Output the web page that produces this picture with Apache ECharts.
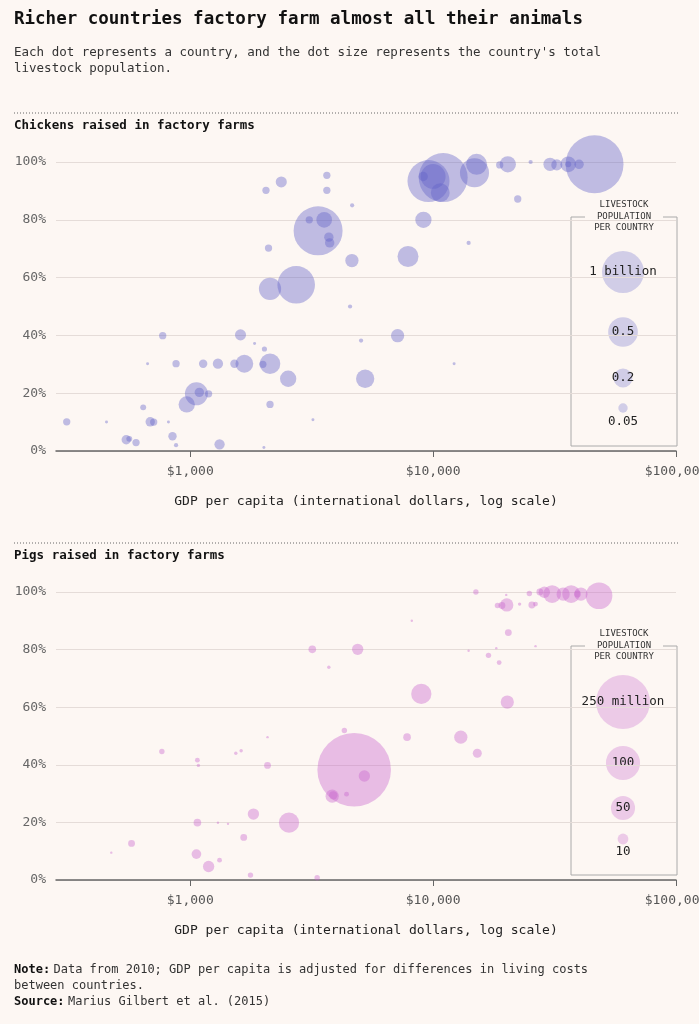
<!DOCTYPE html>
<html>
<head>
<meta charset="UTF-8">
<title>Factory farms</title>
<script src="https://cdn.jsdelivr.net/npm/echarts@6/dist/echarts.min.js"></script>
<style>
  html, body { margin: 0; padding: 0; background: #fdf7f3; }
  #main { width: 699px; height: 1024px; }
</style>
</head>
<body>
<div id="main"></div>
<script>
// chickens: [gdp per capita, % factory farmed, population (billions)]
var chickens = [
  [46200, 99.2, 1.9], [11000, 94.6, 1.36], [9570, 93.4, 1.0], [10000, 95, 0.35], [9100, 95, 0.05],
  [10700, 89.4, 0.2], [14800, 96.3, 0.48], [15100, 99.2, 0.25], [20300, 99.2, 0.15], [18800, 99, 0.03],
  [25200, 100, 0.01], [30300, 99.2, 0.1], [32300, 99, 0.07], [36000, 99.2, 0.14], [36000, 99.2, 0.02],
  [39900, 99.2, 0.05], [22300, 87.2, 0.03], [14000, 72, 0.01], [9120, 80, 0.15], [7880, 67.3, 0.25],
  [3360, 76.2, 1.36], [3560, 80, 0.14], [3090, 80, 0.03], [3720, 74, 0.05], [3750, 72, 0.05],
  [3650, 95.4, 0.03], [3650, 90.2, 0.03], [2370, 93.1, 0.07], [2050, 90.2, 0.03], [4640, 85, 0.01],
  [2100, 70.2, 0.03], [4630, 65.9, 0.1], [2730, 57.5, 0.8], [2130, 56.1, 0.28], [4550, 50, 0.01],
  [7140, 39.9, 0.1], [5050, 38.2, 0.01], [1610, 40.2, 0.07], [770, 39.9, 0.03], [1840, 37.2, 0.005],
  [2020, 35.3, 0.015], [667, 30.2, 0.005], [874, 30.2, 0.03], [1130, 30.2, 0.04], [1300, 30.2, 0.06],
  [1520, 30.2, 0.04], [1670, 30.2, 0.18], [2130, 30.2, 0.24], [1990, 30, 0.03], [2530, 25, 0.15],
  [5250, 25, 0.19], [12200, 30.2, 0.005], [1060, 19.8, 0.3], [1090, 20.3, 0.05], [1190, 19.8, 0.03],
  [967, 16.1, 0.15], [640, 15.1, 0.02], [2130, 16.1, 0.03], [310, 10.1, 0.03], [452, 10, 0.005],
  [684, 10.1, 0.05], [707, 10, 0.03], [813, 10, 0.005], [3200, 10.8, 0.005], [845, 5.1, 0.04],
  [874, 2, 0.01], [545, 3.9, 0.05], [561, 4.2, 0.02], [598, 2.9, 0.03], [1320, 2.3, 0.06],
  [2010, 1.2, 0.005]
];
// pigs: [gdp per capita, % factory farmed, population (millions)]
var pigs = [
  [48200, 98.7, 61], [30900, 99.3, 27], [28700, 99.9, 11], [27500, 100, 4], [34300, 99.3, 15],
  [37000, 99.3, 27], [39300, 99.3, 4], [40600, 99.3, 15], [24900, 99.5, 2.5], [15000, 100, 2.5],
  [20100, 95.5, 15], [19200, 95.3, 4], [18400, 95.3, 2.5], [22700, 95.8, 1], [20000, 99, 0.5],
  [25500, 95.5, 4], [26400, 95.8, 2], [8170, 90, 0.5], [20400, 85.9, 4], [3180, 80.1, 5],
  [4890, 80.1, 11], [3720, 73.9, 1], [14000, 79.6, 0.5], [18200, 80.5, 0.5], [26400, 81.2, 0.5],
  [16900, 78, 2.5], [18700, 75.5, 2], [8940, 64.6, 35], [20200, 61.8, 15], [4310, 51.9, 2.5],
  [7810, 49.6, 5], [13000, 49.6, 15], [15200, 44, 7], [2080, 49.6, 0.5], [4730, 38.3, 464],
  [5210, 36.1, 11], [3840, 29.1, 15], [3880, 29.4, 6], [4400, 29.8, 2], [764, 44.6, 2.5],
  [1070, 41.6, 2], [1080, 39.8, 1], [1540, 44, 1], [1620, 44.9, 1], [2080, 39.8, 4],
  [1820, 22.9, 11], [2550, 19.9, 35], [1070, 19.9, 5], [1300, 19.9, 0.5], [1430, 19.5, 0.5],
  [1660, 14.8, 4], [573, 12.7, 4], [473, 9.5, 0.5], [1060, 9, 8], [1190, 4.7, 11],
  [1320, 6.9, 2], [1770, 1.7, 2.5], [3330, 0.8, 2.5]
];
var chickenKey = [1, 0.5, 0.2, 0.05];
var chickenKeyLabels = ['1 billion', '0.5', '0.2', '0.05'];
var pigKey = [250, 100, 50, 10];
var pigKeyLabels = ['250 million', '100', '50', '10'];
var xTicks = [1000, 10000, 100000];
var yTicks = [0, 20, 40, 60, 80, 100];

var MONO = '"DejaVu Sans Mono", "Liberation Mono", monospace';
var chickenColor = 'rgba(98, 98, 200, 0.5)';
var pigColor = 'rgba(200, 100, 205, 0.5)';

function chickenSize(p) { return 42 * Math.sqrt(p); }
function pigSize(p) { return 54 * Math.sqrt(p / 250); }

function toPoints(rows) {
  return rows.map(function (r) { return [Math.log10(r[0]), r[1], r[2]]; });
}

var logTicks = xTicks.map(function (v) { return Math.log10(v); });

function xAxis(idx) {
  return {
    type: 'value', gridIndex: idx, min: Math.log10(280), max: 5,
    axisLine: { show: true, lineStyle: { color: '#666', width: 1.5 } },
    axisTick: { show: true, customValues: logTicks, length: 6, lineStyle: { color: '#666' } },
    splitLine: { show: false },
    axisLabel: {
      customValues: logTicks, color: '#555', fontFamily: MONO, fontSize: 13, margin: 14,
      formatter: function (v) { return '$' + Math.round(Math.pow(10, v)).toLocaleString('en-US'); }
    },
    name: 'GDP per capita (international dollars, log scale)',
    nameLocation: 'middle', nameGap: 44,
    nameTextStyle: { color: '#222', fontFamily: MONO, fontSize: 13 }
  };
}
function yAxis(idx) {
  return {
    type: 'value', gridIndex: idx, min: 0, max: 100, interval: 20,
    axisLine: { show: false }, axisTick: { show: false },
    splitLine: { lineStyle: { color: '#e5dcd8', width: 1.2 } },
    axisLabel: { color: '#666', fontFamily: MONO, fontSize: 13, margin: 10,
      formatter: function (v) { return v + '%'; } }
  };
}

function keyGraphics(top, keys, labels, sizeFn, color, centers, labelOffsets) {
  var g = [];
  var left = 571, right = 677, bottom = top + 229;
  g.push({ type: 'polyline', shape: { points: [[left + 14, top], [left, top], [left, bottom], [right, bottom], [right, top], [right - 14, top]] },
    style: { stroke: '#aaa', fill: null, lineWidth: 1 } });
  ['LIVESTOCK', 'POPULATION', 'PER COUNTRY'].forEach(function (t, i) {
    g.push({ type: 'text', x: 624, y: top - 12 + i * 11.5,
      style: { text: t, fontFamily: MONO, fontSize: 9, fill: '#333', align: 'center', verticalAlign: 'middle' } });
  });
  keys.forEach(function (k, i) {
    g.push({ type: 'circle', shape: { cx: 623, cy: top + centers[i], r: sizeFn(k) / 2 }, style: { fill: color } });
    g.push({ type: 'text', x: 623, y: top + centers[i] + labelOffsets[i],
      style: { text: labels[i], fontFamily: MONO, fontSize: 12.5, fill: '#222', align: 'center', verticalAlign: 'middle' } });
  });
  return g;
}

var graphics = [
  { type: 'text', x: 14, y: 10, style: { text: 'Richer countries factory farm almost all their animals', fontFamily: MONO, fontWeight: 'bold', fontSize: 17.5, fill: '#111' } },
  { type: 'text', x: 14, y: 45, style: { text: "Each dot represents a country, and the dot size represents the country's total\nlivestock population.", fontFamily: MONO, fontSize: 12.5, lineHeight: 16, fill: '#333' } },
  { type: 'line', shape: { x1: 14, y1: 113, x2: 679, y2: 113 }, style: { stroke: '#666', lineDash: [1, 2], lineWidth: 1 } },
  { type: 'text', x: 14, y: 119, style: { text: 'Chickens raised in factory farms', fontFamily: MONO, fontWeight: 'bold', fontSize: 12.5, fill: '#111' } },
  { type: 'line', shape: { x1: 14, y1: 543, x2: 679, y2: 543 }, style: { stroke: '#666', lineDash: [1, 2], lineWidth: 1 } },
  { type: 'text', x: 14, y: 549, style: { text: 'Pigs raised in factory farms', fontFamily: MONO, fontWeight: 'bold', fontSize: 12.5, fill: '#111' } },
  { type: 'text', x: 14, y: 962, style: { rich: { b: { fontWeight: 'bold', fontFamily: MONO, fontSize: 12, fill: '#111' }, n: { fontFamily: MONO, fontSize: 12, fill: '#333' } },
    text: '{b|Note:} {n|Data from 2010; GDP per capita is adjusted for differences in living costs}\n{n|between countries.}\n{b|Source:} {n|Marius Gilbert et al. (2015)}', lineHeight: 16 } }
];
graphics = graphics.concat(keyGraphics(217, chickenKey, chickenKeyLabels, chickenSize, 'rgba(98, 98, 200, 0.28)', [55, 115, 161, 191], [0, 0, 0, 14]));
graphics = graphics.concat(keyGraphics(646, pigKey, pigKeyLabels, pigSize, 'rgba(200, 100, 205, 0.3)', [56, 117, 162, 193], [0, 0, 0, 13]));

var chart = echarts.init(document.getElementById('main'));
chart.setOption({
  backgroundColor: '#fdf7f3',
  animation: false,
  grid: [
    { left: 56, right: 23, top: 162, height: 289, outerBoundsMode: 'none', containLabel: false },
    { left: 56, right: 23, top: 592, height: 288, outerBoundsMode: 'none', containLabel: false }
  ],
  xAxis: [xAxis(0), xAxis(1)],
  yAxis: [yAxis(0), yAxis(1)],
  series: [
    { type: 'scatter', xAxisIndex: 0, yAxisIndex: 0, data: toPoints(chickens), clip: false,
      symbolSize: function (d) { return chickenSize(d[2]); }, itemStyle: { color: chickenColor } },
    { type: 'scatter', xAxisIndex: 1, yAxisIndex: 1, data: toPoints(pigs), clip: false,
      symbolSize: function (d) { return pigSize(d[2]); }, itemStyle: { color: pigColor } }
  ],
  graphic: graphics
});
</script>
</body>
</html>
